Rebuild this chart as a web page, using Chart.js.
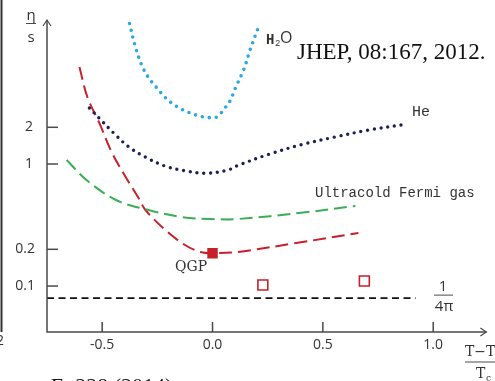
<!DOCTYPE html>
<html>
<head>
<meta charset="utf-8">
<script src="https://cdn.jsdelivr.net/npm/chart.js@4/dist/chart.umd.min.js"></script>
<style>
  html, body { margin: 0; padding: 0; background: #fff; }
  #wrap { width: 495px; height: 381px; position: relative; }
</style>
</head>
<body>
<div id="wrap"><canvas id="myChart" width="495" height="381"></canvas></div>
<script>
// values: x = (T-Tc)/Tc, y = eta/s (log axis)
var h2oX = [-0.376, -0.353, -0.323, -0.293, -0.253, -0.211, -0.161, -0.104, -0.045, -0.015, 0.015, 0.037, 0.059, 0.082, 0.101, 0.142, 0.170, 0.205];
var h2oY = [14.2, 9.6, 6.6, 5.2, 4.22, 3.46, 2.95, 2.63, 2.44, 2.40, 2.41, 2.60, 2.92, 3.35, 4.10, 5.97, 8.6, 12.8];

var heX = [-0.558, -0.536, -0.513, -0.446, -0.379, -0.304, -0.214, -0.125, -0.036, 0.067, 0.119, 0.260, 0.409, 0.558, 0.707, 0.885];
var heY = [2.88, 2.62, 2.37, 1.78, 1.38, 1.14, 0.96, 0.88, 0.84, 0.89, 0.98, 1.21, 1.45, 1.67, 1.90, 2.13];

var qgpX = [-0.603, -0.567, -0.513, -0.455, -0.393, -0.335, -0.304, -0.214, -0.125, -0.054, 0.0, 0.112, 0.379, 0.661];
var qgpY = [6.24, 3.54, 2.17, 1.23, 0.78, 0.526, 0.42, 0.288, 0.217, 0.19, 0.186, 0.19, 0.225, 0.272];

var fermiX = [-0.661, -0.571, -0.4375, -0.29, -0.143, -0.009, 0.112, 0.411, 0.647];
var fermiY = [1.08, 0.74, 0.507, 0.42, 0.368, 0.354, 0.354, 0.40, 0.453];

var qgpPointX = [0.0];
var qgpPointY = [0.186];

var openSqX = [0.228, 0.688];
var openSqY = [0.102, 0.110];

var kssX = [-0.75, 0.92];
var kssY = [0.0796, 0.0796];

var xTicks = [-0.5, 0.0, 0.5, 1.0];
var xTickLabels = ['-0.5', '0.0', '0.5', '1.0'];
var yTicks = [2, 1, 0.2, 0.1];
var yTickLabels = ['2', '1', '0.2', '0.1'];

function pts(xs, ys) {
    return xs.map(function(x, i) { return {x: x, y: ys[i]}; });
}

var axisPlugin = {
    id: 'axisPlugin',
    afterDraw: function(chart) {
        var ctx = chart.ctx;
        var xs = chart.scales.x, ys = chart.scales.y;
        var a = chart.chartArea;
        ctx.save();
        ctx.strokeStyle = '#4a4a4a';
        ctx.fillStyle = '#333';
        ctx.lineWidth = 1.5;
        // axes
        ctx.beginPath();
        ctx.moveTo(a.left, a.top);
        ctx.lineTo(a.left, a.bottom);
        ctx.lineTo(a.right, a.bottom);
        ctx.stroke();
        // arrow heads
        ctx.lineWidth = 1.2;
        ctx.beginPath();
        ctx.moveTo(a.left - 4, a.top + 6); ctx.lineTo(a.left, a.top); ctx.lineTo(a.left + 4, a.top + 6);
        ctx.moveTo(a.right - 6, a.bottom - 4); ctx.lineTo(a.right, a.bottom); ctx.lineTo(a.right - 6, a.bottom + 4);
        ctx.stroke();

        ctx.lineWidth = 1.5;
        ctx.font = '14px "Open Sans"';
        ctx.textAlign = 'center';
        ctx.textBaseline = 'middle';
        xTicks.forEach(function(v, i) {
            var px = xs.getPixelForValue(v);
            ctx.beginPath(); ctx.moveTo(px, a.bottom); ctx.lineTo(px, a.bottom - 10); ctx.stroke();
            ctx.fillText(xTickLabels[i], px, a.bottom + 13);
        });
        ctx.textAlign = 'right';
        yTicks.forEach(function(v, i) {
            var py = ys.getPixelForValue(v);
            ctx.beginPath(); ctx.moveTo(a.left, py); ctx.lineTo(a.left + 11, py); ctx.stroke();
            ctx.fillText(yTickLabels[i], yTickLabels[i].length > 1 ? 35 : 33, py);
        });

        // y title eta / s
        ctx.textAlign = 'center';
        ctx.font = '15px "Open Sans"';
        ctx.fillText('\u03b7', 31, 16);
        ctx.fillText('s', 31, 38);
        ctx.lineWidth = 1;
        ctx.beginPath(); ctx.moveTo(26, 23.5); ctx.lineTo(36, 23.5); ctx.stroke();

        // x title (T-Tc)/Tc, cut at the right edge
        ctx.font = '14px "DejaVu Serif"';
        ctx.textAlign = 'left';
        ctx.fillText('T\u2212T', 465, 352);
        ctx.font = '9px "DejaVu Serif"';
        ctx.fillText('c', 495, 356);
        ctx.font = '14px "DejaVu Serif"';
        ctx.fillText('T', 476, 374);
        ctx.font = '9px "DejaVu Serif"';
        ctx.fillText('c', 486, 379);
        ctx.beginPath(); ctx.moveTo(465, 362); ctx.lineTo(495, 362); ctx.stroke();

        // 1/(4 pi)
        var ky = ys.getPixelForValue(kssY[0]);
        ctx.font = '15px "Open Sans"';
        ctx.textAlign = 'center';
        ctx.fillText('1', 443, ky - 11);
        ctx.fillText('4\u03c0', 444, ky + 9);
        ctx.beginPath(); ctx.moveTo(434, ky - 3); ctx.lineTo(453, ky - 3); ctx.stroke();

        // curve labels
        ctx.fillStyle = '#333';
        ctx.textAlign = 'left';
        ctx.font = 'bold 14px "Liberation Mono"';
        ctx.fillText('H', 266, 40);
        ctx.font = '9px "Liberation Mono"';
        ctx.fillText('2', 275, 44);
        ctx.font = '16px "Open Sans"';
        ctx.fillText('O', 280, 38);
        ctx.font = '15px "Liberation Mono"';
        ctx.fillText('He', 412, 112);
        ctx.font = '14px "Liberation Mono"';
        ctx.fillText('Ultracold Fermi gas', 315, 193);
        ctx.font = '14px "DejaVu Serif"';
        ctx.fillText('QGP', 175, 267);

        // citation
        ctx.fillStyle = '#111';
        ctx.font = '23px "Liberation Serif"';
        ctx.textBaseline = 'alphabetic';
        ctx.fillText('JHEP, 08:167, 2012.', 297, 59);
        ctx.font = '22px "Liberation Serif"';
        ctx.fillText('a. E, 228 (2014)', 30, 393);

        // scan border on the left
        ctx.strokeStyle = '#333';
        ctx.lineWidth = 2;
        ctx.beginPath(); ctx.moveTo(1.5, 0); ctx.lineTo(1.5, 332); ctx.stroke();
        ctx.font = '14px "Open Sans"';
        ctx.textBaseline = 'middle';
        ctx.fillStyle = '#333';
        ctx.fillText('2', -4, 341);
        ctx.restore();
    }
};

var ctx = document.getElementById('myChart');

var myChart = new Chart(ctx, {
    type: 'scatter',
    data: {
        datasets: [{
            label: 'H2O',
            data: pts(h2oX, h2oY),
            showLine: true,
            borderColor: '#2aa8e0',
            borderWidth: 3.6,
            borderDash: [0, 7],
            borderCapStyle: 'round',
            pointRadius: 0,
            tension: 0.35
        }, {
            label: 'He',
            data: pts(heX, heY),
            showLine: true,
            borderColor: '#1b2157',
            borderWidth: 3.4,
            borderDash: [0, 6.8],
            borderCapStyle: 'round',
            pointRadius: 0,
            tension: 0.35
        }, {
            label: 'Ultracold Fermi gas',
            data: pts(fermiX, fermiY),
            showLine: true,
            borderColor: '#3bae55',
            borderWidth: 2,
            borderDash: [13, 6],
            pointRadius: 0,
            tension: 0.35
        }, {
            label: 'QGP',
            data: pts(qgpX, qgpY),
            showLine: true,
            borderColor: '#c8202a',
            borderWidth: 2,
            borderDash: [13, 6],
            pointRadius: 0,
            tension: 0.35
        }, {
            label: 'QGP point',
            data: pts(qgpPointX, qgpPointY),
            pointStyle: 'rect',
            pointRadius: 7.4,
            backgroundColor: '#c8202a',
            borderColor: '#c8202a',
            borderWidth: 0
        }, {
            label: 'open squares',
            data: pts(openSqX, openSqY),
            pointStyle: 'rect',
            pointRadius: 7,
            backgroundColor: '#ffffff',
            borderColor: '#c8202a',
            borderWidth: 1.6
        }, {
            label: '1/4pi',
            data: pts(kssX, kssY),
            showLine: true,
            borderColor: '#111',
            borderWidth: 1.7,
            borderDash: [7, 4.5],
            pointRadius: 0
        }]
    },
    options: {
        responsive: false,
        animation: false,
        layout: { padding: { left: 47, right: 2, top: 20, bottom: 49 } },
        plugins: {
            legend: { display: false },
            tooltip: { enabled: false }
        },
        elements: { line: { clip: false } },
        scales: {
            x: { type: 'linear', min: -0.75, max: 1.241, display: false },
            y: { type: 'logarithmic', min: 0.042, max: 15.15, display: false }
        }
    },
    plugins: [axisPlugin]
});
</script>
</body>
</html>
